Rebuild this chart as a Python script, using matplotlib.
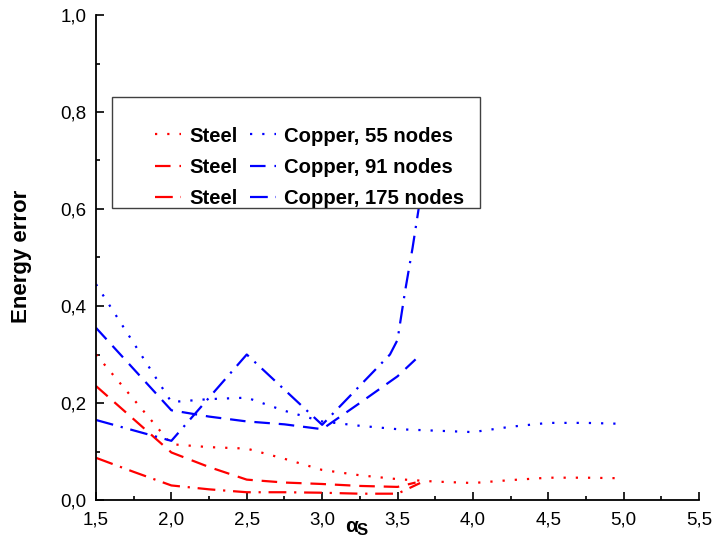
import matplotlib
matplotlib.use("Agg")
import matplotlib.pyplot as plt
from matplotlib.patches import Rectangle
from matplotlib.ticker import MultipleLocator

plt.rcParams['font.family'] = ['Liberation Sans', 'DejaVu Sans']

# Steel (red)
steel_dot_x = [1.5, 2.0, 2.25, 2.5, 2.75, 3.0, 3.25, 3.5, 3.75, 4.0, 4.25, 4.5, 4.75, 4.95]
steel_dot_y = [0.30, 0.115, 0.109, 0.106, 0.085, 0.062, 0.051, 0.043, 0.038, 0.035, 0.041, 0.046, 0.046, 0.045]
steel_dash_x = [1.5, 2.0, 2.25, 2.5, 2.75, 3.0, 3.25, 3.5, 3.62]
steel_dash_y = [0.235, 0.098, 0.068, 0.042, 0.036, 0.033, 0.029, 0.027, 0.036]
steel_dd_x = [1.5, 1.75, 2.0, 2.25, 2.5, 2.75, 3.0, 3.25, 3.5, 3.65]
steel_dd_y = [0.087, 0.058, 0.030, 0.022, 0.016, 0.016, 0.015, 0.013, 0.013, 0.035]

# Copper (blue)
cu55_x = [1.5, 2.0, 2.25, 2.5, 2.75, 3.0, 3.25, 3.5, 3.75, 4.0, 4.25, 4.5, 4.75, 5.0]
cu55_y = [0.445, 0.202, 0.208, 0.211, 0.184, 0.162, 0.153, 0.146, 0.143, 0.140, 0.151, 0.159, 0.159, 0.157]
cu91_x = [1.5, 2.0, 2.25, 2.5, 2.75, 3.0, 3.25, 3.5, 3.62]
cu91_y = [0.355, 0.185, 0.172, 0.162, 0.156, 0.146, 0.200, 0.255, 0.290]
cu175_x = [1.5, 2.0, 2.5, 3.0, 3.45, 3.5, 3.55, 3.6, 3.65]
cu175_y = [0.165, 0.122, 0.300, 0.155, 0.300, 0.330, 0.430, 0.520, 0.620]

labels = ['Steel', 'Steel', 'Steel', 'Copper, 55 nodes', 'Copper, 91 nodes', 'Copper, 175 nodes']
x_ticks = [1.5, 2.0, 2.5, 3.0, 3.5, 4.0, 4.5, 5.0, 5.5]
y_ticks = [0.0, 0.2, 0.4, 0.6, 0.8, 1.0]

dot = (0, (1, 4.5))
dash = (0, (7, 4))
dashdot = (0, (8, 3.5, 1, 3.5))

fig = plt.figure(figsize=(7.13, 5.4), dpi=100)
ax = fig.add_axes([96 / 713, 40 / 540, 603 / 713, 485 / 540])

lw = 1.6
h = []
h += ax.plot(steel_dot_x, steel_dot_y, color='red', ls=dot, lw=lw)
h += ax.plot(steel_dash_x, steel_dash_y, color='red', ls=dash, lw=lw)
h += ax.plot(steel_dd_x, steel_dd_y, color='red', ls=dashdot, lw=lw)
h += ax.plot(cu55_x, cu55_y, color='blue', ls=dot, lw=lw)
h += ax.plot(cu91_x, cu91_y, color='blue', ls=dash, lw=lw)
h += ax.plot(cu175_x, cu175_y, color='blue', ls=dashdot, lw=lw)

ax.set_xlim(1.5, 5.5)
ax.set_ylim(0, 1.0)
ax.set_xticks(x_ticks)
ax.set_xticklabels([f"{v:.1f}".replace('.', ',') for v in x_ticks])
ax.set_yticks(y_ticks)
ax.set_yticklabels([f"{v:.1f}".replace('.', ',') for v in y_ticks])
ax.xaxis.set_minor_locator(MultipleLocator(0.25))
ax.yaxis.set_minor_locator(MultipleLocator(0.1))
ax.tick_params(which='both', direction='in', width=1.2, labelsize=13.5)
ax.tick_params(which='major', length=6)
ax.tick_params(which='minor', length=3)
ax.tick_params(axis='x', pad=8)
ax.tick_params(axis='y', pad=7)
for s in ['top', 'right']:
    ax.spines[s].set_visible(False)
for s in ['left', 'bottom']:
    ax.spines[s].set_linewidth(1.3)

# legend box
ax.add_patch(Rectangle((0.0265, 0.602), 0.6105, 0.229, transform=ax.transAxes,
                       facecolor='white', edgecolor='#404040', lw=1, zorder=4))
ax.legend(h, labels, ncol=2, frameon=False, loc='upper left',
          bbox_to_anchor=(0.098, 0.77), borderaxespad=0, borderpad=0,
          handlelength=1.3, handletextpad=0.4, columnspacing=0.6,
          labelspacing=0.6, prop={'weight': 'bold', 'size': 14.6})

# axis labels
fig.text(22 / 713, 1 - 256 / 540, 'Energy error', rotation=90, ha='center', va='center',
         fontsize=16, fontweight='bold')
ax.text(0.423, -0.054, 'α', transform=ax.transAxes, ha='center', va='center',
        fontsize=15, fontweight='bold')
ax.text(0.441, -0.063, 'S', transform=ax.transAxes, ha='center', va='center',
        fontsize=12, fontweight='bold')

fig.savefig('out.png', dpi=100)
